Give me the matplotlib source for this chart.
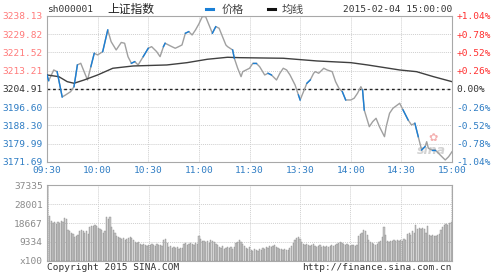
import matplotlib
matplotlib.use("Agg")
import matplotlib.pyplot as plt
from matplotlib.lines import Line2D

# price line (minutes after 09:30, trading time)
price_min = [0, 1, 4, 6, 9, 11, 14, 16, 18, 20, 22, 24, 26, 28, 30, 33, 36, 38, 41, 44,
             46, 48, 50, 52, 54, 57, 60, 62, 65, 67, 69, 70, 72, 74, 76, 78, 80, 82, 84, 86,
             88, 90, 92, 94, 96, 98, 100, 102, 104, 106, 107, 110, 111, 113, 115, 116, 118, 120, 122, 124,
             126, 129, 131, 133, 136, 138, 140, 142, 144, 147, 149, 150, 152, 154, 156, 158, 159, 161, 163, 164,
             166, 169, 171, 173, 175, 177, 180, 182, 184, 186, 187, 188, 191, 193, 195, 197, 200, 201, 203, 205,
             209, 211, 214, 216, 218, 220, 222, 224, 225, 226, 228, 230, 232, 234, 236, 238, 240]
price = [3211.28, 3208.68, 3213.55, 3212.78, 3201.27, 3202.18, 3203.68, 3205.95, 3215.83, 3216.60,
         3212.78, 3209.00, 3215.06, 3221.15, 3220.38, 3221.88, 3231.76, 3226.43, 3222.66, 3226.07,
         3225.71, 3219.61, 3216.60, 3217.33, 3215.83, 3219.61, 3223.43, 3224.16, 3221.88, 3219.61,
         3224.16, 3225.71, 3224.93, 3224.16, 3223.43, 3224.16, 3224.93, 3230.26, 3230.99, 3229.48,
         3231.76, 3234.49, 3237.81, 3237.81, 3234.03, 3230.26, 3233.26, 3232.53, 3228.71, 3224.93,
         3224.16, 3222.66, 3218.88, 3214.33, 3210.51, 3212.78, 3213.55, 3214.33, 3216.60, 3216.60,
         3215.06, 3211.28, 3212.05, 3211.28, 3209.00, 3212.05, 3214.33, 3213.55, 3211.28, 3206.73,
         3202.18, 3199.90, 3203.68, 3207.50, 3209.00, 3212.05, 3212.78, 3212.05, 3213.55, 3214.33,
         3213.55, 3212.78, 3208.23, 3205.23, 3203.68, 3199.90, 3199.90, 3200.68, 3202.95, 3205.95,
         3204.45, 3195.35, 3187.75, 3190.03, 3191.57, 3187.75, 3183.20, 3187.75, 3193.85, 3196.12,
         3198.40, 3195.35, 3190.80, 3188.52, 3189.30, 3183.20, 3177.15, 3178.65, 3180.92, 3177.92,
         3177.15, 3177.15, 3175.64, 3174.10, 3172.60, 3174.10, 3176.37]
# segments of the price line drawn in blue
blue_seg = [0, 3, 7, 12, 15, 22, 25, 30, 37, 45, 51, 58, 62, 70, 73, 84, 90, 101, 104, 106, 110]

avg_min = [0, 7, 12, 16, 22, 30, 39, 51, 71, 83, 95, 107, 114, 140, 160, 180, 190, 209, 219, 229, 240]
avg = [3211.28, 3210.51, 3208.23, 3207.50, 3209.00, 3211.28, 3214.33, 3215.37, 3215.83, 3216.88,
       3218.42, 3219.33, 3219.15, 3218.88, 3217.65, 3216.88, 3215.83, 3213.55, 3212.78, 3210.51, 3208.23]

# volume per minute, in hundreds of shares
volume = [37335, 22000, 19500, 18500, 19000, 18000, 19000, 18500, 19500, 19000,
          21000, 20500, 15000, 14500, 14000, 13500, 12000, 12500, 13000, 14500,
          15000, 14500, 14000, 14500, 13500, 16500, 17000, 17000, 17500, 17000,
          16000, 15500, 15000, 14000, 14500, 21500, 20500, 21500, 16500, 15000,
          14000, 12500, 12000, 11500, 11000, 11500, 10500, 11000, 11500, 12000,
          11500, 10500, 9500, 9000, 9500, 8500, 8000, 8500, 8000, 7500,
          8000, 8000, 8500, 8000, 7500, 8500, 8000, 8000, 7500, 10500,
          11000, 9000, 7000, 7500, 6500, 7000, 6500, 7000, 6000, 6500,
          6500, 8500, 9000, 8000, 8500, 9000, 8500, 8000, 9000, 8500,
          12500, 11000, 10000, 10000, 9500, 10000, 9000, 10500, 10000, 9500,
          8500, 8000, 7000, 6500, 7500, 6000, 6500, 7000, 6500, 7000,
          6000, 7000, 9000, 9500, 10500, 9500, 8500, 7500, 6500, 6000,
          7000, 5500, 5000, 6000, 5500, 5000, 6000, 5500, 6500, 6000,
          7000, 6500, 7500, 7000, 7500, 8000, 7000, 6500, 6000, 6000,
          5500, 6000, 5500, 5500, 6500, 7500, 9000, 10500, 11500, 12000,
          11000, 9500, 8500, 8000, 8500, 8000, 7500, 8000, 8500, 7500,
          7000, 7500, 8000, 7000, 7500, 7000, 7500, 7000, 7500, 8000,
          7500, 8000, 8500, 9000, 9500, 9000, 8500, 8000, 8500, 8000,
          7500, 8000, 8000, 7500, 8000, 12500, 13500, 14000, 15000, 14500,
          13000, 10500, 9500, 9000, 8500, 8000, 8500, 9500, 10000, 12000,
          16500, 13000, 10000, 9500, 10000, 10000, 10500, 10000, 10500, 10000,
          10500, 10000, 11000, 10500, 13500, 14000, 13000, 14500, 14000, 17800,
          15500, 16000, 15500, 16000, 15500, 14000, 17300, 13000, 12500, 13000,
          12500, 12500, 13000, 13500, 15000, 16500, 17500, 18000, 17500, 18500,
          19000]

price_ticks = [3171.69, 3179.99, 3188.30, 3196.60, 3204.91, 3213.21, 3221.52, 3229.82, 3238.13]
pct_labels = ["-1.04%", "-0.78%", "-0.52%", "-0.26%", "0.00%", "+0.26%", "+0.52%", "+0.78%", "+1.04%"]
time_ticks = [0, 30, 60, 90, 120, 150, 180, 210, 240]
time_labels = ["09:30", "10:00", "10:30", "11:00", "11:30", "13:30", "14:00", "14:30", "15:00"]
vol_ticks = [0, 9334, 18667, 28001, 37335]
vol_labels = ["x100", "9334", "18667", "28001", "37335"]

RED = "#ff3030"
PINK = "#ff7a7a"
BLUE = "#2f7dc4"
DARK = "#333333"
GRID = "#cfcfcf"
mono = "DejaVu Sans Mono"
fs = 6.8

fig = plt.figure(figsize=(5, 2.75), dpi=100)
fig.patch.set_facecolor("white")

ax = fig.add_axes([0.094, 0.411, 0.81, 0.531])
axv = fig.add_axes([0.094, 0.051, 0.81, 0.276])

# price panel
ax.plot(price_min, price, color="#a0a0a0", lw=1.0, zorder=3)
for i in blue_seg:
    ax.plot(price_min[i:i + 2], price[i:i + 2], color="#1a7fd6", lw=1.0, zorder=4)
ax.plot(avg_min, avg, color="#404040", lw=1.0, zorder=3)
ax.axhline(price_ticks[4], color="#222222", lw=1.0, ls=(0, (2, 2)), zorder=2)

ax.set_xlim(0, 240)
ax.set_ylim(price_ticks[0], price_ticks[-1])
ax.set_xticks(time_ticks)
ax.set_xticklabels(time_labels, fontsize=fs, family=mono, color=BLUE)
ax.set_yticks(price_ticks)
ax.set_yticklabels(["%.2f" % p for p in price_ticks], fontsize=fs, family=mono)
for lab, p in zip(ax.get_yticklabels(), price_ticks):
    if p > price_ticks[4]:
        lab.set_color(PINK)
    elif p < price_ticks[4]:
        lab.set_color(BLUE)
    else:
        lab.set_color(DARK)
ax.tick_params(length=0, pad=3)
ax.grid(True, color=GRID, lw=0.7, ls=(0, (1, 1)))
for s in ax.spines.values():
    s.set_color("#a8a8a8")
    s.set_linewidth(0.8)

ax2 = ax.twinx()
ax2.set_ylim(ax.get_ylim())
ax2.set_yticks(price_ticks)
ax2.set_yticklabels(pct_labels, fontsize=fs, family=mono)
for lab, t in zip(ax2.get_yticklabels(), pct_labels):
    lab.set_color(RED if t.startswith("+") else (BLUE if t.startswith("-") else DARK))
ax2.tick_params(length=0, pad=3)
for s in ax2.spines.values():
    s.set_visible(False)

# sina watermark
ax.text(228, 3177, "sina", fontsize=9, style="italic", fontweight="bold",
        color="#c8c8c8", alpha=0.8, ha="center", va="center", zorder=1)
ax.text(229, 3182.5, "✿", fontsize=8, color="#f4b0b0", ha="center", va="center",
        family="DejaVu Sans", zorder=1)

# volume panel
axv.bar(range(len(volume)), volume, width=0.75, color="#c4c4c4",
        edgecolor="#8c8c8c", linewidth=0.3, zorder=3)
axv.set_xlim(-0.5, 240.5)
axv.set_ylim(0, vol_ticks[-1])
axv.set_xticks(time_ticks)
axv.set_xticklabels([])
axv.set_yticks(vol_ticks)
axv.set_yticklabels(vol_labels, fontsize=fs, family=mono, color="#8a8a8a")
axv.tick_params(length=0, pad=3)
axv.grid(True, color=GRID, lw=0.7, ls=(0, (1, 1)))
for s in axv.spines.values():
    s.set_color("#a8a8a8")
    s.set_linewidth(0.8)

# header texts
fig.text(0.094, 0.965, "sh000001", fontsize=fs, family=mono, color=DARK, va="center")
fig.text(0.262, 0.965, "上证指数", fontsize=8.5, family=["Noto Sans CJK SC", "DejaVu Sans"],
         color="#222222", va="center", ha="center")
fig.add_artist(Line2D([0.412, 0.426], [0.968, 0.968], color="#1a7fd6", lw=2.2))
fig.text(0.443, 0.965, "价格", fontsize=8, family=["Noto Sans CJK SC", "DejaVu Sans"],
         color="#444444", va="center")
fig.add_artist(Line2D([0.536, 0.55], [0.968, 0.968], color="#111111", lw=2.2))
fig.text(0.563, 0.965, "均线", fontsize=8, family=["Noto Sans CJK SC", "DejaVu Sans"],
         color="#444444", va="center")
fig.text(0.904, 0.965, "2015-02-04 15:00:00", fontsize=fs, family=mono, color=DARK,
         va="center", ha="right")

# footer texts
fig.text(0.094, 0.026, "Copyright 2015 SINA.COM", fontsize=fs, family=mono, color=DARK, va="center")
fig.text(0.904, 0.026, "http://finance.sina.com.cn", fontsize=fs, family=mono, color=DARK,
         va="center", ha="right")

fig.savefig("out.png", dpi=100, facecolor="white")
